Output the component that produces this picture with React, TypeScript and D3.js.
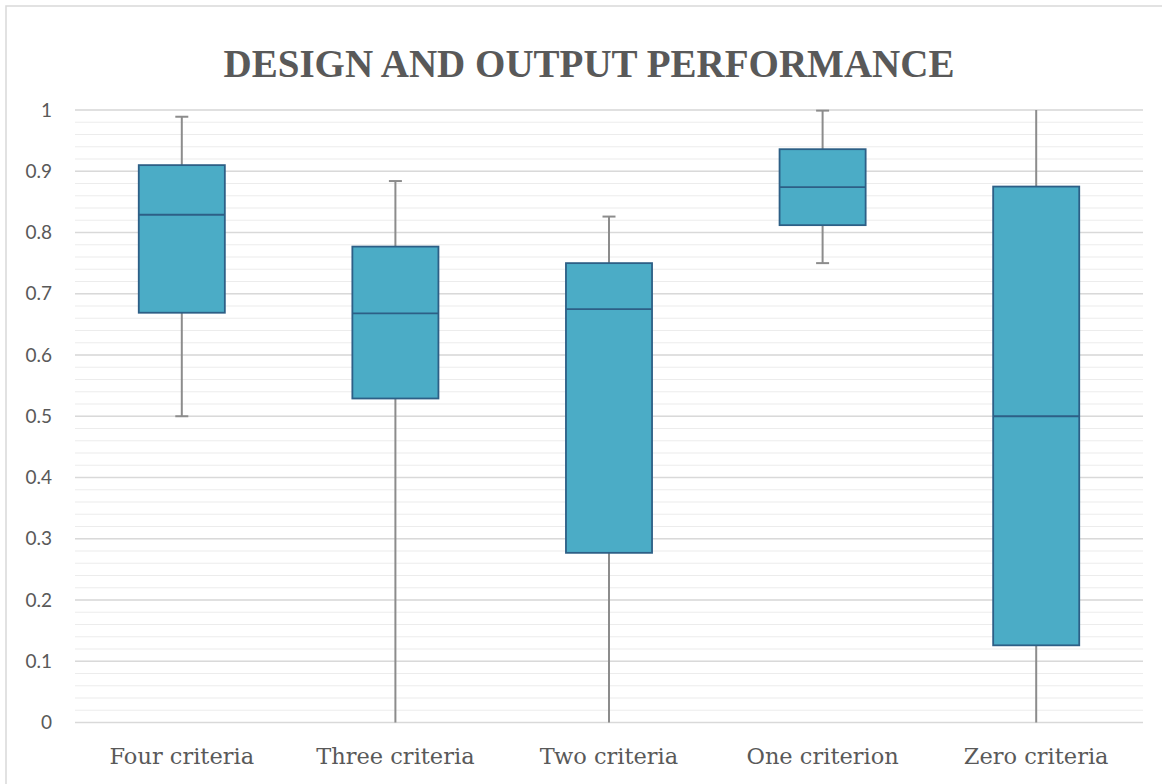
import React from "react";
import * as d3 from "d3";

const categories = ["Four criteria", "Three criteria", "Two criteria", "One criterion", "Zero criteria"];
const whiskerLow = [0.5, 0, 0, 0.75, 0];
const q1 = [0.669, 0.529, 0.277, 0.812, 0.126];
const median = [0.829, 0.668, 0.675, 0.874, 0.5];
const q3 = [0.91, 0.777, 0.75, 0.936, 0.875];
const whiskerHigh = [0.989, 0.884, 0.826, 0.999, 1.0];
const yTicks = [0, 0.1, 0.2, 0.3, 0.4, 0.5, 0.6, 0.7, 0.8, 0.9, 1];
const minorTicks = d3.range(0, 1.0001, 0.02);

const W = 1162;
const H = 784;
const left = 75;
const right = 1143;
const top = 110;
const bottom = 722.5;

export default function App() {
  const x = d3.scaleBand<string>().domain(categories).range([left, right]).padding(0);
  const y = d3.scaleLinear().domain([0, 1]).range([bottom, top]);
  const bw = x.step() * 0.403;
  const capW = 13;
  const textColor = "#595959";

  return (
    <svg width={W} height={H} style={{ position: "absolute", left: 0, top: 0, background: "#fff" }}>
      <rect x={6} y={6} width={W + 10} height={H + 10} fill="#fff" stroke="#d9d9d9" strokeWidth={1.5} />
      <text
        x={589}
        y={77}
        textAnchor="middle"
        fontFamily="'Liberation Serif', 'DejaVu Serif', serif"
        fontWeight="bold"
        fontSize={40}
        fill={textColor}
        textLength={731}
        lengthAdjust="spacingAndGlyphs"
      >
        DESIGN AND OUTPUT PERFORMANCE
      </text>
      {minorTicks.map((t, i) => (
        <line key={"m" + i} x1={left} x2={right} y1={y(t)} y2={y(t)} stroke="#ececec" strokeWidth={1.2} />
      ))}
      {yTicks.map((t, i) => (
        <line key={"g" + i} x1={left} x2={right} y1={y(t)} y2={y(t)} stroke="#d9d9d9" strokeWidth={1.5} />
      ))}
      {yTicks.map((t, i) => (
        <text
          key={"t" + i}
          x={52}
          y={y(t)}
          dy="0.35em"
          textAnchor="end"
          fontFamily="Lato, 'Open Sans', sans-serif"
          fontSize={19}
          fill={textColor}
        >
          {d3.format("~g")(t)}
        </text>
      ))}
      {categories.map((c, i) => {
        const cx = (x(c) as number) + x.bandwidth() / 2;
        const showLowCap = whiskerLow[i] > 0;
        const showHighCap = whiskerHigh[i] < 1;
        return (
          <g key={c}>
            <line x1={cx} x2={cx} y1={y(whiskerHigh[i])} y2={y(q3[i])} stroke="#8c8c8c" strokeWidth={2} />
            <line x1={cx} x2={cx} y1={y(q1[i])} y2={y(whiskerLow[i])} stroke="#8c8c8c" strokeWidth={2} />
            {showHighCap && (
              <line x1={cx - capW / 2} x2={cx + capW / 2} y1={y(whiskerHigh[i])} y2={y(whiskerHigh[i])} stroke="#8c8c8c" strokeWidth={2} />
            )}
            {showLowCap && (
              <line x1={cx - capW / 2} x2={cx + capW / 2} y1={y(whiskerLow[i])} y2={y(whiskerLow[i])} stroke="#8c8c8c" strokeWidth={2} />
            )}
            <rect
              x={cx - bw / 2}
              y={y(q3[i])}
              width={bw}
              height={y(q1[i]) - y(q3[i])}
              fill="#4BACC6"
              stroke="#2D5F86"
              strokeWidth={1.8}
            />
            <line x1={cx - bw / 2} x2={cx + bw / 2} y1={y(median[i])} y2={y(median[i])} stroke="#2D5F86" strokeWidth={1.8} />
            <text
              x={cx}
              y={764}
              textAnchor="middle"
              fontFamily="'DejaVu Serif', 'Liberation Serif', serif"
              fontSize={22.5}
              fill={textColor}
            >
              {c}
            </text>
          </g>
        );
      })}
    </svg>
  );
}
